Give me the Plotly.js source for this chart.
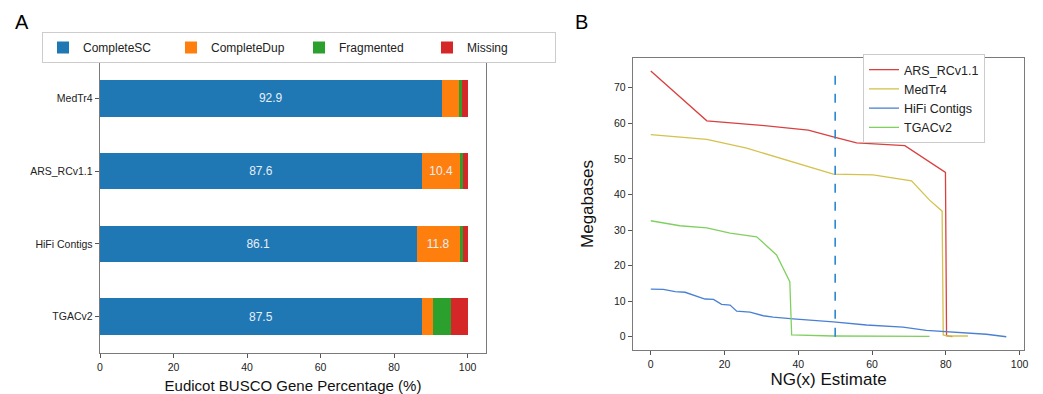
<!DOCTYPE html>
<html>
<head>
<meta charset="utf-8">
<script src="https://cdn.plot.ly/plotly-3.0.1.min.js"></script>
<style>html,body{margin:0;padding:0;background:#fff;}#chart{width:1043px;height:394px;}</style>
</head>
<body>
<div id="chart"></div>
<script>
// ---------- Panel A data (BUSCO percentages) ----------
const categories = ['MedTr4', 'ARS_RCv1.1', 'HiFi Contigs', 'TGACv2'];
const completeSC = [92.9, 87.6, 86.1, 87.5];
const completeDup = [4.7, 10.4, 11.8, 3.1];
const fragmented = [0.9, 0.7, 0.8, 5.0];
const missing = [1.5, 1.3, 1.3, 4.4];
const seriesNames = ['CompleteSC', 'CompleteDup', 'Fragmented', 'Missing'];
const xTicksA = [0, 20, 40, 60, 80, 100];

// ---------- Panel B data (NG(x) curves, Mb) ----------
const arsX = [0, 15.2, 30, 42.7, 49.5, 55.8, 68.9, 79.9, 80.2, 81.8];
const arsY = [74.7, 60.7, 59.4, 58.1, 56.2, 54.5, 53.7, 46.2, 0.3, 0];
const medX = [0, 15.2, 26.0, 49.5, 60.3, 70.7, 75.6, 79.0, 79.3, 80.5, 86.0];
const medY = [56.8, 55.5, 53.0, 45.7, 45.5, 43.8, 38.4, 35.3, 0.5, 0.2, 0.2];
const hifiX = [0, 3.4, 6.6, 9.3, 14.7, 17.0, 19.2, 21.5, 23.3, 26.9, 30.5, 33.2, 38.6, 49.5, 58.5, 68.4, 74.7, 80.1, 91.0, 96.4];
const hifiY = [13.4, 13.3, 12.7, 12.5, 10.6, 10.5, 9.1, 8.9, 7.2, 6.9, 5.9, 5.5, 5.0, 4.2, 3.3, 2.7, 1.8, 1.5, 0.7, 0];
const tgacX = [0, 7.9, 15.2, 21.5, 28.7, 34.1, 37.7, 38.2, 49.5, 75.6];
const tgacY = [32.6, 31.2, 30.6, 29.1, 28.1, 23.0, 15.5, 0.5, 0.2, 0.1];
const lineNames = ['ARS_RCv1.1', 'MedTr4', 'HiFi Contigs', 'TGACv2'];
const ngMark = 50;
const xTicksB = [0, 20, 40, 60, 80, 100];
const yTicksB = [0, 10, 20, 30, 40, 50, 60, 70];

const FONT = 'Liberation Sans, Arial, Helvetica, sans-serif';
const barColors = ['#1f77b4', '#ff7f0e', '#2ca02c', '#d62728'];
const lineColors = ['#d94040', '#d4c24c', '#4a80d4', '#80d060'];

const traces = [];
[completeSC, completeDup, fragmented, missing].forEach((vals, i) => {
  traces.push({
    type: 'bar', orientation: 'h', x: vals, y: categories,
    name: seriesNames[i], xaxis: 'x', yaxis: 'y', legend: 'legend',
    marker: {color: barColors[i], line: {width: 0}},
    width: 0.5,
    text: vals.map(v => v >= 10 ? v.toFixed(1) : ''),
    textposition: 'inside', insidetextanchor: 'middle', textangle: 0,
    constraintext: 'none',
    textfont: {family: FONT, size: 12, color: '#e6eef7'},
    hoverinfo: 'skip'
  });
});

[[arsX, arsY], [medX, medY], [hifiX, hifiY], [tgacX, tgacY]].forEach((d, i) => {
  traces.push({
    type: 'scatter', mode: 'lines', x: d[0], y: d[1], name: lineNames[i],
    xaxis: 'x2', yaxis: 'y2', legend: 'legend2',
    line: {color: lineColors[i], width: 1.3}, hoverinfo: 'skip'
  });
});
traces.push({
  type: 'scatter', mode: 'lines', x: [ngMark, ngMark], y: [0, Math.max(...arsY)],
  xaxis: 'x2', yaxis: 'y2', showlegend: false,
  line: {color: '#2a88d0', width: 1.6, dash: 'dash'}, hoverinfo: 'skip'
});

const W = 1043, H = 394;
const axisCommon = {
  showline: true, mirror: true, linecolor: '#7a7a7a', linewidth: 1.3,
  showgrid: false, zeroline: false, ticks: 'outside', ticklen: 4,
  tickcolor: '#555', tickwidth: 1, tickfont: {family: FONT, size: 10.5, color: '#222'}
};

const layout = {
  width: W, height: H,
  margin: {l: 0, r: 0, t: 0, b: 0},
  paper_bgcolor: '#fff', plot_bgcolor: '#fff',
  barmode: 'stack', hovermode: false,
  font: {family: FONT, color: '#111'},
  xaxis: Object.assign({}, axisCommon, {
    domain: [100 / W, 486 / W], range: [0, 105], tickvals: xTicksA,
    anchor: 'y',
    title: {text: 'Eudicot BUSCO Gene Percentage (%)', font: {family: FONT, size: 15, color: '#111'}, standoff: 8}
  }),
  yaxis: Object.assign({}, axisCommon, {
    domain: [(H - 353) / H, (H - 62) / H],
    type: 'category', categoryorder: 'array', categoryarray: categories.slice().reverse(),
    range: [-0.5, 3.5], anchor: 'x'
  }),
  xaxis2: Object.assign({}, axisCommon, {
    domain: [633 / W, 1024 / W], range: [-4.82, 101.2], tickvals: xTicksB,
    anchor: 'y2',
    title: {text: 'NG(x) Estimate', font: {family: FONT, size: 17, color: '#111'}, standoff: 1}
  }),
  yaxis2: Object.assign({}, axisCommon, {
    domain: [(H - 350) / H, (H - 58) / H], range: [-3.73, 78.35], tickvals: yTicksB,
    anchor: 'x2',
    title: {text: 'Megabases', font: {family: FONT, size: 17, color: '#111'}, standoff: 16}
  }),
  legend: {
    orientation: 'h', x: 42 / W, y: 1 - 32 / H, xanchor: 'left', yanchor: 'top',
    bordercolor: '#cccccc', borderwidth: 1, bgcolor: '#fff',
    font: {family: FONT, size: 12, color: '#222'}, traceorder: 'normal',
    itemwidth: 30, entrywidth: 83, entrywidthmode: 'pixels'
  },
  legend2: {
    x: 863 / W, y: 1 - 54 / H, xanchor: 'left', yanchor: 'top',
    bordercolor: '#cccccc', borderwidth: 1, bgcolor: '#fff',
    font: {family: FONT, size: 12.5, color: '#222'}, traceorder: 'normal',
    itemwidth: 30, entrywidth: 110, entrywidthmode: 'pixels'
  },
  annotations: [
    {text: 'A', xref: 'paper', yref: 'paper', x: 13 / W, y: 1 - 22 / H, xanchor: 'left', yanchor: 'middle', showarrow: false, font: {family: FONT, size: 20, color: '#000'}},
    {text: 'B', xref: 'paper', yref: 'paper', x: 573 / W, y: 1 - 22 / H, xanchor: 'left', yanchor: 'middle', showarrow: false, font: {family: FONT, size: 20, color: '#000'}}
  ]
};

Plotly.newPlot('chart', traces, layout, {displayModeBar: false, staticPlot: true});
</script>
</body>
</html>
